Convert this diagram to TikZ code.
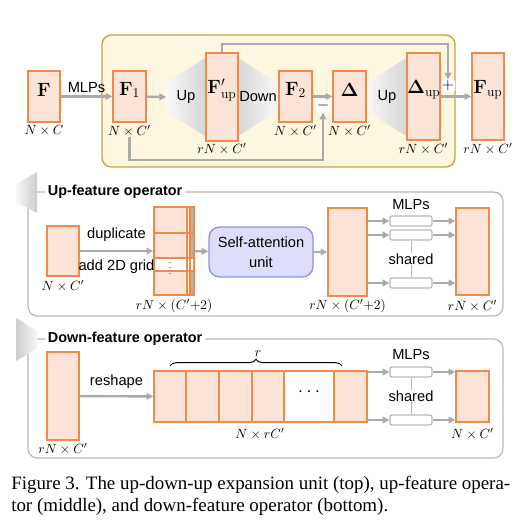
\documentclass[tikz,border=0pt]{standalone}
\usepackage[no-math]{fontspec}
\setmainfont{Liberation Serif}
\setsansfont{Liberation Sans}
\usetikzlibrary{arrows.meta,fit,decorations.pathreplacing,calc}
\definecolor{forange}{HTML}{F0894A}
\definecolor{fpeach}{HTML}{FBE4D5}
\definecolor{ybg}{HTML}{FDF6E0}
\definecolor{yborder}{HTML}{C9A33D}
\definecolor{agray}{HTML}{AAAAAA}
\definecolor{cgray}{HTML}{B8B8B8}
\definecolor{lav}{HTML}{DEDEFA}
\definecolor{lavb}{HTML}{8F8FF0}
\tikzset{
  fbox/.style={draw=forange, fill=fpeach, line width=1.1pt, inner sep=0pt, font=\fontsize{14}{16}\selectfont},
  lab/.style={font=\fontsize{9.8}{11}\selectfont, inner sep=0pt},
  stxt/.style={font=\sffamily\fontsize{11}{13}\selectfont, inner sep=0pt},
  ttl/.style={font=\sffamily\bfseries\fontsize{10.8}{13}\selectfont, fill=white, inner sep=2pt, anchor=west},
  arr/.style={draw=agray, line width=1.8pt, -{Triangle[length=5pt,width=5pt]}},
  mlpbox/.style={draw=cgray, fill=white, rounded corners=1.5pt, line width=0.9pt, inner sep=0pt},
  cont/.style={draw=cgray, line width=0.9pt, rounded corners=7pt},
  sign/.style={fill=white, inner sep=0.8pt, rounded corners=2pt, font=\fontsize{13}{14}\selectfont},
}
\begin{document}
\begin{tikzpicture}[x=0.75pt,y=-0.75pt]
\useasboundingbox (0,0) rectangle (526,524);
% ---------- top: up-down-up unit ----------
\draw[yborder, fill=ybg, line width=1pt, rounded corners=7pt] (102,35) rectangle (455,167);
\shade[left color=gray!5, right color=gray!32] (166,83) -- (205,58) -- (205,136) -- (166,111) -- cycle;
\shade[left color=gray!32, right color=gray!5] (238,58) -- (278,83) -- (278,111) -- (238,136) -- cycle;
\shade[left color=gray!5, right color=gray!32] (367,83) -- (406,58) -- (406,136) -- (367,111) -- cycle;
\node[stxt] (upA) at (186,97) {Up};
\node[stxt] (dn) at (258,97) {Down};
\node[stxt] (upB) at (387,97) {Up};
\coordinate (upAin) at (166,97);

\node[fbox, fit={(28,71) (60,122)}] (F) {$\mathbf{F}$};
\node[fbox, fit={(113,71) (146,122)}] (F1) {$\mathbf{F}_1$};
\node[fbox, fit={(206,53) (238,141)}] (Fupp) {$\mathbf{F}'_{\mathrm{up}}$};
\node[fbox, fit={(279,71) (312,122)}] (F2) {$\mathbf{F}_2$};
\node[fbox, fit={(333,71) (366,122)}] (D) {$\mathbf{\Delta}$};
\node[fbox, fit={(407,53) (440,140)}] (Dup) {$\mathbf{\Delta}_{\mathrm{up}}$};
\node[fbox, fit={(472,53) (504,140)}] (Fup) {$\mathbf{F}_{\mathrm{up}}$};

\node[lab] (Fl) at (44,131) {$N\times C$};
\node[lab] (F1l) at (129.5,131) {$N\times C'$};
\node[lab] (Fuppl) at (222,149) {$rN\times C'$};
\node[lab] (F2l) at (295.5,131) {$N\times C'$};
\node[lab] (Dl) at (349.5,131) {$N\times C'$};
\node[lab] (Dupl) at (423.5,149) {$rN\times C'$};
\node[lab] (Fupl) at (488,149) {$rN\times C'$};

\draw[arr] (F) -- (F1) node[midway, above=2pt, stxt] {MLPs};
\draw[arr] (F1) -- (upAin);
\draw[arr] (F2) -- (D);
\draw[arr] (Dup) -- (Fup);
\node[sign] (minus) at (323,106) {$-$};
\node[sign] (plus) at (448,86) {$+$};
\coordinate (skb) at (323,160);
\coordinate (skt) at (448,44);
\draw[arr] (F1l.south) |- (skb) -- (minus.south);
\draw[arr] (Fupp.north) |- (skt) -- (plus.north);

% ---------- middle: up-feature operator ----------
\draw[cont] (28,192) rectangle (503,316);
\shade[left color=gray!6, right color=gray!40] (16,184) -- (37,172) -- (37,213) -- (16,202) -- cycle;
\node[ttl] (t1) at (45,192) {Up-feature operator};

\node[fbox, fit={(47,226) (79,276)}] (inU) {};
\node[lab] at (63,286) {$N\times C'$};

\fill[fpeach] (154,207) rectangle (194,295);
\fill[white] (154,258) rectangle (194,271);
\fill[gray!60] (190,207) rectangle (194,258);
\fill[gray!60] (190,271) rectangle (194,295);
\draw[forange, line width=0.9pt] (154,233) -- (194,233) (154,258) -- (194,258) (154,271) -- (194,271)
  (187,207) -- (187,295) (190,207) -- (190,295);
\node[fit={(154,207) (194,295)}, draw=forange, line width=1.1pt, inner sep=0pt] (stk) {};
\node[font=\fontsize{7}{7}\selectfont, inner sep=0pt] (vd) at (170,264.5) {$\vdots$};
\node[lab] at (174,306) {$rN\times(C'{+}2)$};

\draw[arr] (inU) -- (stk) node[midway, above=6pt, stxt] {duplicate}
                         node[midway, below=6pt, stxt] {add 2D grid};

\node[draw=lavb, fill=lav, line width=1pt, rounded corners=8pt, fit={(209,227) (313,277)}, inner sep=0pt] (sa) {};
\node[stxt, align=center, font=\sffamily\fontsize{11}{15}\selectfont] at (sa) {Self-attention\\unit};
\draw[arr] (stk) -- (sa);

\node[fbox, fit={(328,208) (367,296)}] (blk) {};
\node[lab] at (347.5,306) {$rN\times(C'{+}2)$};
\draw[arr] (sa) -- (blk);

\node[mlpbox, fit={(390,216) (432,226)}] (m1) {};
\node[mlpbox, fit={(390,230) (432,240)}] (m2) {};
\node[mlpbox, fit={(390,278) (432,288)}] (m3) {};
\node[stxt] at (411,205) {MLPs};
\node[stxt] (sh1) at (411,259) {shared};
\draw[cgray, line width=0.6pt] (m2.south) -- (sh1.north) (sh1.south) -- (m3.north);

\node[fbox, fit={(456,208) (489,295)}] (outU) {};
\node[lab] at (472.5,306) {$rN\times C'$};
\foreach \m in {m1,m2,m3}{
  \draw[arr] (blk.east |- \m.west) -- (\m.west);
  \draw[arr] (\m.east) -- (outU.west |- \m.east);
}

% ---------- bottom: down-feature operator ----------
\draw[cont] (28,339) rectangle (503,458);
\shade[left color=gray!40, right color=gray!6] (16,318) -- (37,331) -- (37,349) -- (16,361) -- cycle;
\node[ttl] (t2) at (45,339) {Down-feature operator};

\node[fbox, fit={(47,352) (79,440)}] (inD) {};
\node[lab] at (63,449) {$rN\times C'$};

\node[fbox, fit={(154,371) (186,422)}] (c1) {};
\node[fbox, fit={(186,371) (219,422)}] (c2) {};
\node[fbox, fit={(219,371) (252,422)}] (c3) {};
\node[fbox, fit={(252,371) (284,422)}] (c4) {};
\node[fbox, fill=white, fit={(284,371) (334,422)}] (cd) {$\cdots$};
\node[fbox, fit={(334,371) (367,422)}] (c6) {};
\node[lab] at (260,434) {$N\times rC'$};
\draw[decorate, decoration={brace, amplitude=5pt}, line width=0.7pt] (170,366) -- (342,366);
\node[lab] at (258,354) {$r$};

\draw[arr] (inD) -- (c1) node[midway, above=5pt, stxt] {reshape};

\node[mlpbox, fit={(390,367) (432,377)}] (d1) {};
\node[mlpbox, fit={(390,415) (432,425)}] (d2) {};
\node[stxt] at (411,355) {MLPs};
\node[stxt] (sh2) at (411,396) {shared};
\draw[cgray, line width=0.6pt] (d1.south) -- (sh2.north) (sh2.south) -- (d2.north);

\node[fbox, fit={(456,371) (489,422)}] (outD) {};
\node[lab] at (472.5,434) {$N\times C'$};
\foreach \m in {d1,d2}{
  \draw[arr] (c6.east |- \m.west) -- (\m.west);
  \draw[arr] (\m.east) -- (outD.west |- \m.east);
}

% ---------- caption ----------
\node[anchor=west, inner sep=0pt, font=\fontsize{14.2}{16}\selectfont] (cap1) at (11,485) {Figure 3. The up-down-up expansion unit (top), up-feature opera-};
\node[anchor=west, inner sep=0pt, font=\fontsize{14.2}{16}\selectfont] (cap2) at (11,507) {tor (middle), and down-feature operator (bottom).};
\end{tikzpicture}
\end{document}
